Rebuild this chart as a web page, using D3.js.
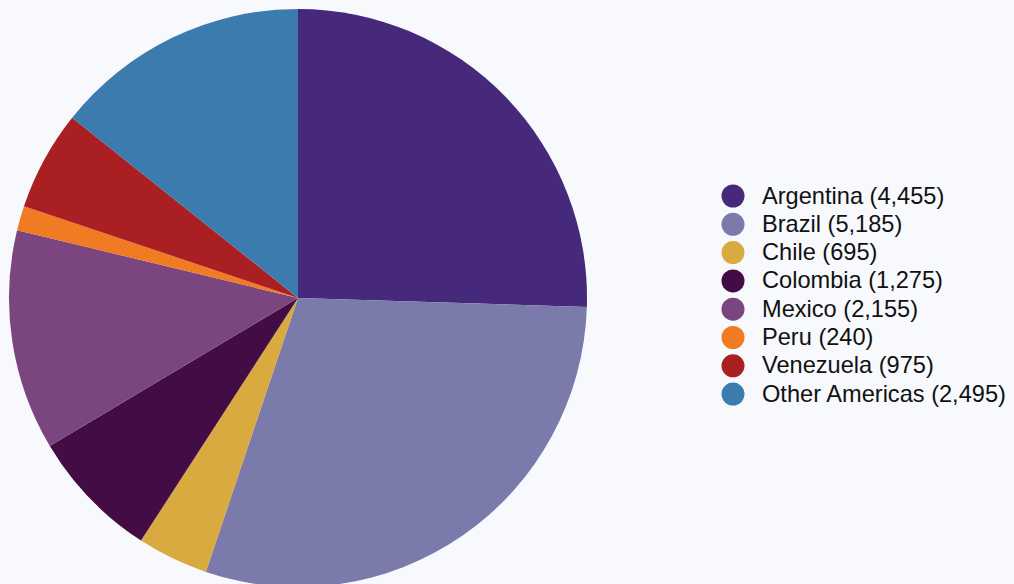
<!DOCTYPE html>
<html><head><meta charset="utf-8">
<script src="https://cdn.jsdelivr.net/npm/d3@7"></script>
<style>html,body{margin:0;padding:0;background:#f7f9fc;overflow:hidden}</style>
</head><body>
<svg id="c" width="1014" height="584"></svg>
<script>
const categories = ["Argentina","Brazil","Chile","Colombia","Mexico","Peru","Venezuela","Other Americas"];
const values = [4455,5185,695,1275,2155,240,975,2495];
const valueLabels = ["4,455","5,185","695","1,275","2,155","240","975","2,495"];
const colors = ["#46297a","#7a7aab","#d9aa3f","#430c44","#7b4580","#f07b22","#aa1f22","#3b7bad"];

const svg = d3.select("#c");
const cx = 298, cy = 298, r = 289;
const pie = d3.pie().sort(null).value(d => d.v);
const data = categories.map((c,i)=>({c, v: values[i], col: colors[i], lab: valueLabels[i]}));
const arc = d3.arc().innerRadius(0).outerRadius(r);
svg.append("g").attr("transform",`translate(${cx},${cy})`)
  .selectAll("path").data(pie(data)).join("path")
  .attr("d", arc).attr("fill", d => d.data.col);

const lg = svg.append("g").attr("transform","translate(733,196)");
const step = 28.3;
const items = lg.selectAll("g").data(data).join("g")
  .attr("transform",(d,i)=>`translate(0,${i*step})`);
items.append("circle").attr("r",11.5).attr("fill",d=>d.col);
items.append("text").attr("x",29).attr("y",7.5)
  .attr("font-family","Liberation Sans, Arial, sans-serif").attr("font-size",23.6)
  .attr("fill","#111")
  .text(d=>`${d.c} (${d.lab})`);
</script>
</body></html>
